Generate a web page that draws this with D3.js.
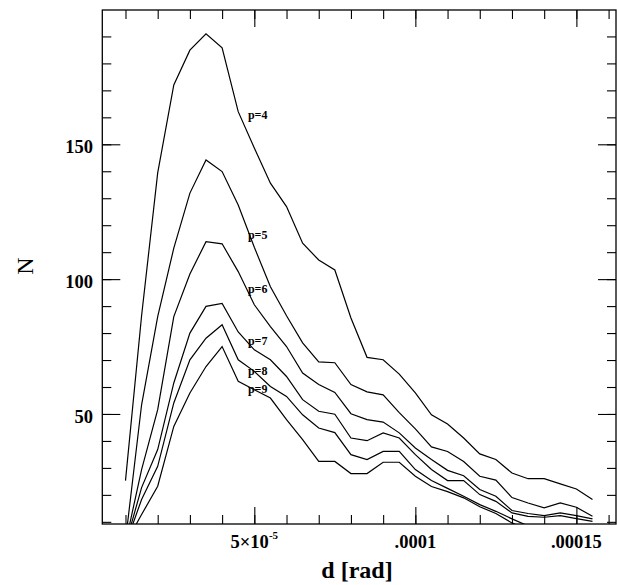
<!DOCTYPE html>
<html>
<head>
<meta charset="utf-8">
<script src="https://cdn.jsdelivr.net/npm/d3@7"></script>
<style>
  body { margin: 0; background: #fff; }
  svg { display: block; }
  text { font-family: "Liberation Serif", "Times New Roman", serif; fill: #000; }
</style>
</head>
<body>
<div id="chart-container"></div>
<script>
// angular distance d [rad], sampled every 5e-6
const dVals = [1.0e-5, 1.5e-5, 2.0e-5, 2.5e-5, 3.0e-5, 3.5e-5, 4.0e-5, 4.5e-5, 5.0e-5, 5.5e-5,
               6.0e-5, 6.5e-5, 7.0e-5, 7.5e-5, 8.0e-5, 8.5e-5, 9.0e-5, 9.5e-5, 1.0e-4, 1.05e-4,
               1.1e-4, 1.15e-4, 1.2e-4, 1.25e-4, 1.3e-4, 1.35e-4, 1.4e-4, 1.45e-4, 1.5e-4, 1.55e-4];

const nP4 = [25.3, 86.4, 139.4, 172.0, 184.9, 191.0, 185.8, 162.1, 148.6, 135.6,
             126.9, 113.3, 107.1, 103.4, 85.6, 71.0, 70.1, 64.8, 57.8, 49.7,
             46.3, 41.1, 35.2, 33.1, 28.1, 26.0, 26.0, 24.1, 22.2, 18.3];
const nP5 = [3, 53.4, 86.1, 111.5, 131.9, 144.2, 139.9, 127.5, 111.8, 97.2,
             86.4, 76.4, 69.3, 69.0, 60.9, 58.2, 57.1, 50.5, 44.5, 37.8,
             36.1, 32.4, 26.9, 25.5, 19.0, 17.0, 15.2, 17.0, 15.4, 12.1];
const nP6 = [2, 29.4, 51.6, 86.1, 101.9, 113.9, 113.1, 102.8, 90.5, 82.4,
             75.0, 65.2, 60.9, 58.0, 50.1, 47.9, 47.0, 43.0, 37.4, 33.1,
             29.1, 27.1, 22.0, 19.5, 14.2, 13.1, 12.3, 13.3, 12.3, 11.1];
const nP7 = [1.5, 22.7, 36.8, 61.5, 80.0, 89.9, 91.0, 80.4, 73.8, 70.1,
             63.9, 55.3, 51.0, 49.9, 41.1, 40.1, 43.0, 41.1, 34.9, 29.4,
             25.3, 25.3, 20.1, 17.6, 13.3, 12.0, 11.7, 12.3, 11.2, 10.2];
const nP8 = [1.5, 18.3, 30.6, 54.1, 70.1, 78.1, 83.1, 70.1, 65.8, 60.2,
             56.5, 49.7, 44.8, 43.1, 34.9, 33.1, 36.1, 36.1, 29.4, 25.3,
             22.4, 19.5, 16.4, 13.9, 11.1, 8.5, 8.0, 8.5, 7.5, 7.0];
const nP9 = [2, 12.7, 23.2, 45.4, 57.8, 67.6, 75.0, 62.1, 59.0, 55.9,
             47.9, 40.5, 32.4, 32.4, 27.9, 27.9, 32.1, 32.1, 26.9, 23.1,
             21.2, 18.9, 15.6, 13.1, 9.6, 7.0, 6.5, 7.0, 6.0, 5.5];

const seriesNames = ["p=4", "p=5", "p=6", "p=7", "p=8", "p=9"];
const labelD = 4.8e-5;
const labelN = [160.9, 116.4, 96.3, 76.9, 66.0, 59.3];

const xMinorTicks = d3.range(1, 17).map(i => i * 1e-5);
const xMajorTicks = [5e-5, 1e-4, 1.5e-4];
const xTickLabels = [".0001", ".00015"];
const yMinorTicks = d3.range(10, 200, 10);
const yMajorTicks = [50, 100, 150];

const width = 617, height = 585;
const plot = {left: 102.3, right: 616, top: 10, bottom: 524};

const x = d3.scaleLinear()
    .domain([2.8e-6, 1.623e-4])
    .range([plot.left, plot.right]);

const y = d3.scaleLinear()
    .domain([9.2, 199.8])
    .range([plot.bottom, plot.top]);

const svg = d3.select("#chart-container")
    .append("svg")
    .attr("width", width)
    .attr("height", height);

svg.append("defs").append("clipPath")
    .attr("id", "plot-clip")
    .append("rect")
    .attr("x", plot.left)
    .attr("y", plot.top)
    .attr("width", plot.right - plot.left)
    .attr("height", plot.bottom - plot.top);

// ticks on all four sides, pointing inwards
function ticks(axis, tr, size, values) {
  const g = svg.append("g")
      .attr("transform", tr)
      .call(axis.tickValues(values).tickSize(size).tickSizeOuter(0).tickFormat(""));
  g.select(".domain").remove();
  g.selectAll(".tick line").attr("stroke", "#000").attr("stroke-width", 1.1);
}
ticks(d3.axisBottom(x), `translate(0,${plot.bottom})`, -9, xMinorTicks);
ticks(d3.axisBottom(x), `translate(0,${plot.bottom})`, -17, xMajorTicks);
ticks(d3.axisTop(x), `translate(0,${plot.top})`, -9, xMinorTicks);
ticks(d3.axisTop(x), `translate(0,${plot.top})`, -17, xMajorTicks);
ticks(d3.axisLeft(y), `translate(${plot.left},0)`, -9, yMinorTicks);
ticks(d3.axisLeft(y), `translate(${plot.left},0)`, -18, yMajorTicks);
ticks(d3.axisRight(y), `translate(${plot.right},0)`, -9, yMinorTicks);
ticks(d3.axisRight(y), `translate(${plot.right},0)`, -18, yMajorTicks);

svg.append("rect")
    .attr("x", plot.left)
    .attr("y", plot.top)
    .attr("width", plot.right - plot.left)
    .attr("height", plot.bottom - plot.top)
    .attr("fill", "none")
    .attr("stroke", "#000")
    .attr("stroke-width", 1.3);

// tick labels
svg.selectAll(".ylab")
    .data(yMajorTicks)
    .join("text")
    .attr("x", 93)
    .attr("y", d => y(d) + 9)
    .attr("text-anchor", "end")
    .attr("font-size", 18.5)
    .attr("font-weight", "bold")
    .text(d => d);

const lab5 = svg.append("text")
    .attr("x", x(xMajorTicks[0]))
    .attr("y", 548)
    .attr("text-anchor", "middle")
    .attr("font-size", 18.5)
    .attr("font-weight", "bold");
lab5.append("tspan").text("5×10");
lab5.append("tspan").attr("dy", -9).attr("font-size", 11).text("-5");

svg.selectAll(".xlab")
    .data(xMajorTicks.slice(1))
    .join("text")
    .attr("x", d => x(d))
    .attr("y", 548)
    .attr("text-anchor", "middle")
    .attr("font-size", 18.5)
    .attr("font-weight", "bold")
    .text((d, i) => xTickLabels[i]);

// axis titles
svg.append("text")
    .attr("x", 357)
    .attr("y", 578)
    .attr("text-anchor", "middle")
    .attr("font-size", 24)
    .attr("font-weight", "bold")
    .text("d [rad]");

svg.append("text")
    .attr("transform", "translate(33,266) rotate(-90)")
    .attr("text-anchor", "middle")
    .attr("font-size", 24)
    .text("N");

// curves
const allSeries = [nP4, nP5, nP6, nP7, nP8, nP9];
const line = d3.line()
    .x((d, i) => x(dVals[i]))
    .y(d => y(d));

svg.append("g")
    .attr("clip-path", "url(#plot-clip)")
    .selectAll("path")
    .data(allSeries)
    .join("path")
    .attr("fill", "none")
    .attr("stroke", "#000")
    .attr("stroke-width", 1.2)
    .attr("stroke-linejoin", "miter")
    .attr("d", line);

svg.selectAll(".plab")
    .data(seriesNames)
    .join("text")
    .attr("x", x(labelD))
    .attr("y", (d, i) => y(labelN[i]) + 4)
    .attr("font-size", 12)
    .attr("font-weight", "bold")
    .text(d => d);
</script>
</body>
</html>
